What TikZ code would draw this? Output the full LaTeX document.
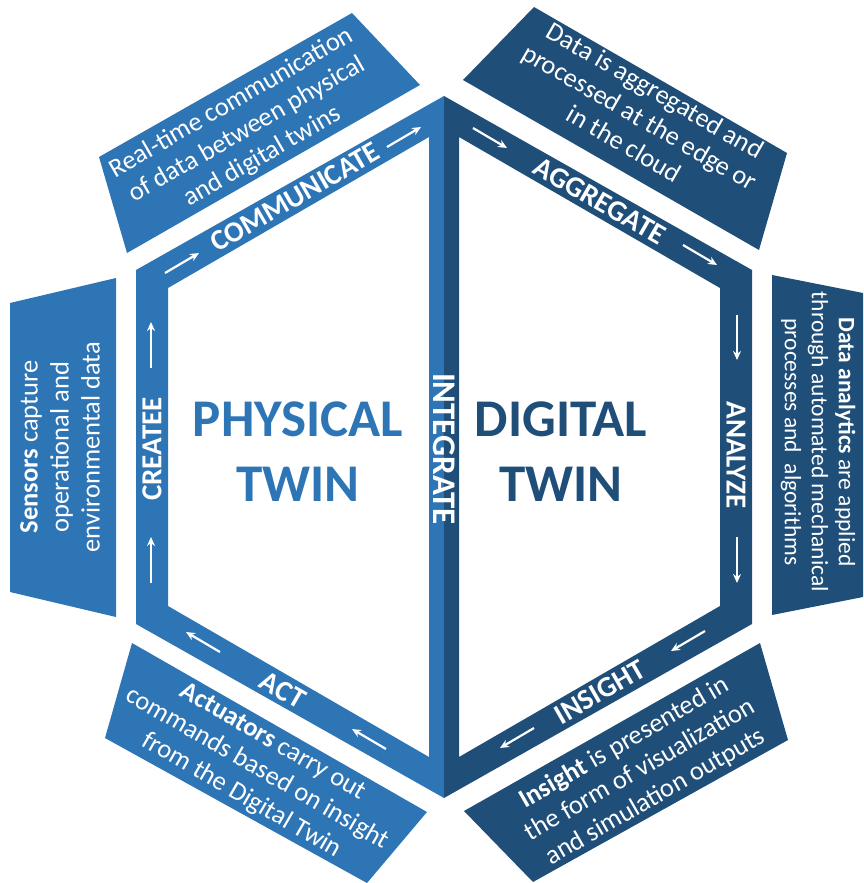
\documentclass[tikz,border=0pt]{standalone}
\usepackage{fontspec}
\setmainfont{Carlito}
\usetikzlibrary{arrows.meta}
\definecolor{lightblue}{HTML}{2E75B6}
\definecolor{darkblue}{HTML}{1F4E79}

\begin{document}
\begin{tikzpicture}[x=1pt,y=-1pt,
  bandtext/.style={text=white,font=\fontsize{29}{32}\selectfont\bfseries,inner sep=0pt},
  flaptext/.style={text=white,font=\fontsize{26.5}{31}\selectfont,align=center,inner sep=0pt},
  twintext/.style={font=\fontsize{53}{65}\selectfont\bfseries,align=center,inner sep=0pt},
  arr/.style={white,line width=2.2pt,-{Stealth[length=9pt,width=8pt]}}]
\useasboundingbox (0,0) rectangle (863,883);

%physical half
\fill[lightblue,even odd rule] (444,96) -- (136,270) -- (136,624) -- (444,798) -- cycle
  (429,137) -- (168,288) -- (168,606) -- (429,757) -- cycle;
%digital half
\fill[darkblue,even odd rule] (444,96) -- (752,270) -- (752,624) -- (444,798) -- cycle
  (459,137) -- (720,288) -- (720,606) -- (459,757) -- cycle;

%flaps
\fill[lightblue] (99,157) -- (352,13) -- (420,85) -- (127,253) -- cycle;
\fill[darkblue] (463,80) -- (534,7) -- (787,153) -- (759,250) -- cycle;
\fill[lightblue] (10,303) -- (116,278) -- (116,617) -- (10,592) -- cycle;
\fill[darkblue] (772,275) -- (863,293) -- (863,597) -- (772,615) -- cycle;
\fill[lightblue] (132,643) -- (427,812) -- (367,883) -- (105,738) -- cycle;
\fill[darkblue] (464,811) -- (760,643) -- (788,740) -- (533,882) -- cycle;

%band labels
\node[bandtext,rotate=30] (communicate) at (295,197) {COMMUNICATE};
\node[bandtext,rotate=-30] (aggregate) at (600,201) {AGGREGATE};
\node[bandtext,rotate=-90] (analyze) at (736,455) {ANALYZE};
\node[bandtext,rotate=30] (insight) at (600,692) {INSIGHT};
\node[bandtext,rotate=-30] (act) at (283,690) {ACT};
\node[bandtext,rotate=90] (createe) at (152,449) {CREATEE};
\node[bandtext,rotate=-90,font=\fontsize{33}{35}\selectfont\bfseries] (integrate) at (444,449) {INTEGRATE};

%arrows on the bands
\draw[arr] (165,273) -- (199,253);
\draw[arr] (387,147) -- (421,127);
\draw[arr] (473,128) -- (507,148);
\draw[arr] (683,245) -- (717,265);
\draw[arr] (737,315) -- (737,360);
\draw[arr] (737,537) -- (737,583);
\draw[arr] (705,631) -- (671,651);
\draw[arr] (534,728) -- (500,748);
\draw[arr] (386,749) -- (352,729);
\draw[arr] (220,652) -- (186,632);
\draw[arr] (151,583) -- (151,537);
\draw[arr] (151,368) -- (151,322);

%twins
\node[twintext,text=lightblue] (physical) at (298,452) {PHYSICAL\\TWIN};
\node[twintext,text=darkblue] (digital) at (561,452) {DIGITAL\\TWIN};

%flap texts
\node[flaptext,rotate=30] (commtext) at (247,130) {Real-time communication\\of data between physical\\and digital twins};
\node[flaptext,rotate=-30] (aggtext) at (640,117) {Data is aggregated and\\processed at the edge or\\in the cloud};
\node[flaptext,rotate=-90,font=\fontsize{23.5}{27}\selectfont] (anatext) at (818,442) {\textbf{Data analytics} are applied\\through automated mechanical\\processes and\ \ algorithms};
\node[flaptext,rotate=30] (instext) at (640,770) {\textbf{Insight} is presented in\\the form of visualization\\and simulation outputs};
\node[flaptext,rotate=-30] (acttext) at (257,769) {\textbf{Actuators} carry out\\commands based on insight\\from the Digital Twin};
\node[flaptext,rotate=90] (sentext) at (60,447) {\textbf{Sensors} capture\\operational and\\environmental data};

\end{tikzpicture}
\end{document}
